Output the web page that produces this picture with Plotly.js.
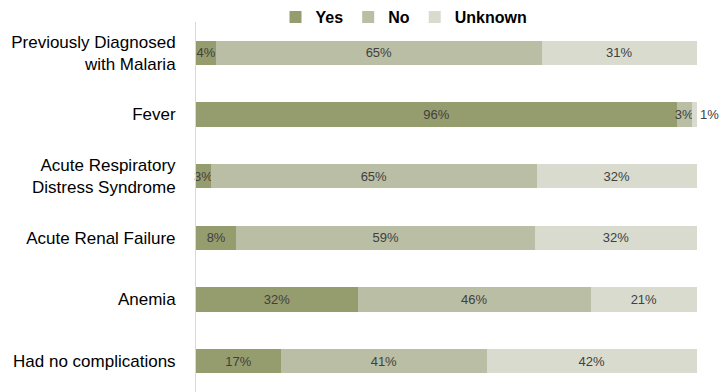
<!DOCTYPE html>
<html>
<head>
<meta charset="utf-8">
<script src="https://cdn.plot.ly/plotly-3.0.1.min.js"></script>
<style>html,body{margin:0;padding:0;background:#fff;}#chart{width:721px;height:392px;}</style>
</head>
<body>
<div id="chart"></div>
<script>
var categories = ['Previously Diagnosed<br>with Malaria', 'Fever', 'Acute Respiratory<br>Distress Syndrome', 'Acute Renal Failure', 'Anemia', 'Had no complications'];
var seriesNames = ['Yes', 'No', 'Unknown'];
var yesValues = [4, 96, 3, 8, 32, 17];
var noValues = [65, 3, 65, 59, 46, 41];
var unknownValues = [31, 1, 32, 32, 21, 42];

var colors = ['#959d6e', '#b9bea4', '#d9dbcf'];
var FONT = '"Liberation Sans Narrow", "Arial Narrow", "Liberation Sans", Arial, sans-serif';

function makeTrace(name, vals, color, isLast) {
  return {
    type: 'bar',
    orientation: 'h',
    name: name,
    y: categories,
    x: vals,
    text: vals.map(function (v) { return v + '%'; }),
    textposition: vals.map(function (v) { return (isLast && v < 2) ? 'outside' : 'inside'; }),
    insidetextanchor: 'middle',
    textangle: 0,
    constraintext: 'none',
    cliponaxis: false,
    textfont: {family: FONT, size: 13, color: '#404040'},
    outsidetextfont: {family: FONT, size: 13, color: '#404040'},
    marker: {color: color, line: {width: 0}},
    hoverinfo: 'none'
  };
}

var data = [
  makeTrace(seriesNames[0], yesValues, colors[0], false),
  makeTrace(seriesNames[1], noValues, colors[1], false),
  makeTrace(seriesNames[2], unknownValues, colors[2], true)
];

var layout = {
  width: 721,
  height: 392,
  margin: {l: 196, r: 24, t: 22, b: 0, autoexpand: false},
  barmode: 'stack',
  barnorm: 'percent',
  bargap: 0.61,
  paper_bgcolor: '#ffffff',
  plot_bgcolor: '#ffffff',
  font: {family: FONT, size: 17, color: '#000000'},
  showlegend: true,
  legend: {
    orientation: 'h',
    xref: 'container', yref: 'container',
    x: 404 / 721, xanchor: 'center',
    y: 1, yanchor: 'top',
    font: {family: FONT, size: 16, color: '#000000', weight: 'bold'},
    itemwidth: 30,
    traceorder: 'normal',
    bgcolor: 'rgba(0,0,0,0)'
  },
  xaxis: {
    range: [0, 100.001],
    showgrid: false,
    zeroline: false,
    showline: false,
    showticklabels: false,
    ticks: '',
    fixedrange: true
  },
  yaxis: {
    autorange: 'reversed',
    showgrid: false,
    zeroline: false,
    showline: true,
    linecolor: '#d9d9d9',
    linewidth: 1,
    ticks: '',
    ticklabelstandoff: 16,
    tickfont: {family: FONT, size: 17, color: '#000000'},
    fixedrange: true
  }
};

Plotly.newPlot('chart', data, layout, {displayModeBar: false, staticPlot: true});
</script>
</body>
</html>
